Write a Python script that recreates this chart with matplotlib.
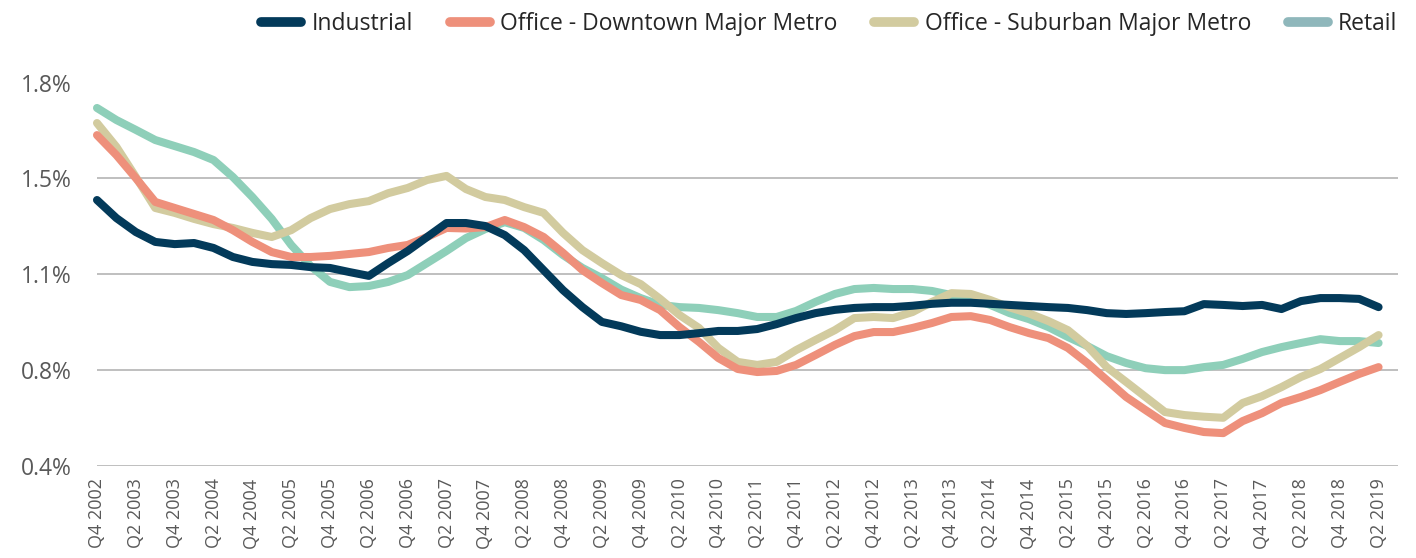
import matplotlib
matplotlib.use("Agg")
from matplotlib import pyplot as plt
from matplotlib.lines import Line2D

# quarters Q4 2002 .. Q2 2019, labelled every second quarter
quarters = []
for year in range(2002, 2020):
    for q in range(1, 5):
        if (year == 2002 and q < 4) or (year == 2019 and q > 2):
            continue
        quarters.append(f"Q{q} {year}")

industrial = [1.371, 1.305, 1.254, 1.218, 1.210, 1.214, 1.196, 1.163, 1.145, 1.137,
              1.134, 1.126, 1.123, 1.108, 1.094, 1.141, 1.185, 1.236, 1.287, 1.287,
              1.276, 1.243, 1.188, 1.115, 1.042, 0.980, 0.926, 0.910, 0.890, 0.878,
              0.878, 0.885, 0.893, 0.893, 0.900, 0.918, 0.940, 0.958, 0.970, 0.977,
              0.980, 0.980, 0.985, 0.992, 0.996, 0.996, 0.992, 0.988, 0.984, 0.980,
              0.977, 0.969, 0.958, 0.955, 0.958, 0.962, 0.965, 0.991, 0.988, 0.984,
              0.988, 0.973, 1.002, 1.013, 1.013, 1.010, 0.980]

office_downtown = [1.608, 1.535, 1.451, 1.364, 1.342, 1.320, 1.298, 1.261, 1.218, 1.181,
                   1.163, 1.163, 1.167, 1.174, 1.181, 1.196, 1.207, 1.236, 1.269, 1.267,
                   1.272, 1.298, 1.272, 1.236, 1.178, 1.115, 1.068, 1.024, 1.006, 0.969,
                   0.907, 0.853, 0.794, 0.754, 0.743, 0.747, 0.769, 0.805, 0.842, 0.874,
                   0.889, 0.889, 0.904, 0.922, 0.944, 0.947, 0.933, 0.907, 0.885, 0.867,
                   0.831, 0.776, 0.714, 0.652, 0.604, 0.557, 0.539, 0.524, 0.520, 0.564,
                   0.593, 0.630, 0.652, 0.677, 0.707, 0.736, 0.761]

office_suburban = [1.652, 1.565, 1.455, 1.342, 1.324, 1.302, 1.283, 1.269, 1.251, 1.236,
                   1.261, 1.305, 1.338, 1.356, 1.367, 1.396, 1.415, 1.444, 1.459, 1.411,
                   1.382, 1.371, 1.345, 1.324, 1.251, 1.188, 1.141, 1.097, 1.064, 1.010,
                   0.951, 0.904, 0.831, 0.780, 0.769, 0.780, 0.823, 0.860, 0.896, 0.940,
                   0.944, 0.940, 0.962, 0.999, 1.031, 1.028, 1.006, 0.979, 0.957, 0.929,
                   0.896, 0.838, 0.761, 0.707, 0.652, 0.597, 0.586, 0.580, 0.576, 0.630,
                   0.655, 0.688, 0.725, 0.754, 0.794, 0.834, 0.878]

retail = [1.707, 1.663, 1.627, 1.590, 1.568, 1.546, 1.517, 1.455, 1.382, 1.302,
          1.207, 1.130, 1.072, 1.053, 1.057, 1.072, 1.097, 1.141, 1.185, 1.232,
          1.265, 1.290, 1.269, 1.225, 1.170, 1.123, 1.086, 1.044, 1.013, 0.988,
          0.980, 0.977, 0.969, 0.958, 0.944, 0.944, 0.966, 0.999, 1.028, 1.046,
          1.050, 1.046, 1.046, 1.039, 1.024, 1.013, 0.988, 0.958, 0.936, 0.907,
          0.871, 0.838, 0.801, 0.776, 0.757, 0.750, 0.750, 0.761, 0.769, 0.791,
          0.816, 0.834, 0.849, 0.863, 0.856, 0.856, 0.849]

y_ticks = [0.4, 0.75, 1.1, 1.45, 1.8]
y_tick_labels = ["0.4%", "0.8%", "1.1%", "1.5%", "1.8%"]

series_names = ["Industrial", "Office - Downtown Major Metro",
                "Office - Suburban Major Metro", "Retail"]
line_colors = ["#033a5a", "#ee907b", "#d2cb9f", "#8ecfb9"]
legend_colors = ["#033a5a", "#ee907b", "#d2cb9f", "#8fb7bb"]

plt.rcParams["font.family"] = ["Open Sans", "DejaVu Sans"]

fig = plt.figure(figsize=(14.16, 5.58), dpi=100)
ax = fig.add_axes([97 / 1416, 1 - 466 / 558, (1398 - 97) / 1416, (466 - 82.5) / 558])

x = list(range(len(quarters)))
all_series = [industrial, office_downtown, office_suburban, retail]
# last series is drawn first so the industrial line ends up on top
for values, color, name in reversed(list(zip(all_series, line_colors, series_names))):
    ax.plot(x, values, color=color, lw=5.8, solid_capstyle="round",
            solid_joinstyle="round", label=name, clip_on=False)

ax.set_xlim(0, len(quarters))
ax.set_ylim(0.4, 1.8)
ax.set_yticks(y_ticks)
ax.set_yticklabels(y_tick_labels)
ax.set_xticks(x[::2])
ax.set_xticklabels(quarters[::2], rotation=90, ha="center", va="top")

ax.grid(axis="y", color="#bfbfbf", lw=1.4)
ax.set_axisbelow(True)
for side in ["top", "right", "left", "bottom"]:
    ax.spines[side].set_visible(False)
ax.tick_params(axis="both", length=0, colors="#595959")
ax.tick_params(axis="y", labelsize=16.5, pad=18)
ax.tick_params(axis="x", labelsize=13, pad=9)

handles = [Line2D([0], [0], color=c, lw=7, solid_capstyle="round") for c in legend_colors]
fig.legend(handles, series_names, loc="center right", bbox_to_anchor=(1.0015, 0.957),
           ncol=4, frameon=False, fontsize=16.5, handlelength=1.75, handletextpad=0.45,
           columnspacing=1.6, labelcolor="#262626")

fig.savefig("out.png", dpi=100)
